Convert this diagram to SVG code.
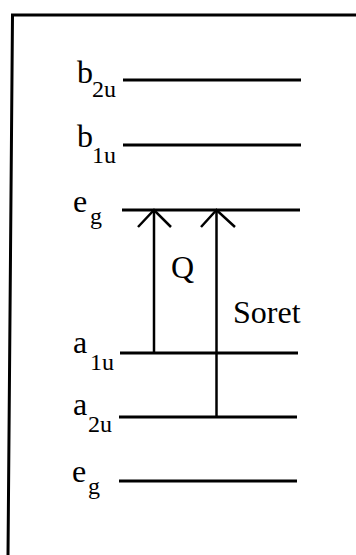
<svg xmlns="http://www.w3.org/2000/svg" width="356" height="555" viewBox="0 0 356 555">
<style>
.lvl{stroke:#000;stroke-width:3;fill:none}
.frame{stroke:#000;stroke-width:3;fill:none}
.arr{stroke:#000;stroke-width:2.5;fill:none}
.t{font-family:"Liberation Serif","Times New Roman",serif;font-size:32px;fill:#000}
.s{font-family:"Liberation Serif","Times New Roman",serif;font-size:24px;fill:#000}
</style>
<rect width="356" height="555" fill="#fff"/>
<g id="frame">
<path class="frame" d="M356,15 H12.5 L8,555"/>
</g>
<g id="b2u">
<line class="lvl" x1="123" y1="80" x2="301" y2="80"/>
<text class="t" x="77" y="83">b</text><text class="s" x="92" y="97">2u</text>
</g>
<g id="b1u">
<line class="lvl" x1="123" y1="145" x2="301" y2="145"/>
<text class="t" x="77" y="147">b</text><text class="s" x="92" y="163">1u</text>
</g>
<g id="eg_upper">
<line class="lvl" x1="122" y1="210" x2="300" y2="210"/>
<text class="t" x="73" y="212">e</text><text class="s" x="90" y="224">g</text>
</g>
<g id="a1u">
<line class="lvl" x1="120" y1="353" x2="298" y2="353"/>
<text class="t" x="73" y="353">a</text><text class="s" x="90" y="370">1u</text>
</g>
<g id="a2u">
<line class="lvl" x1="119" y1="417" x2="297" y2="417"/>
<text class="t" x="73" y="415">a</text><text class="s" x="88" y="432">2u</text>
</g>
<g id="eg_lower">
<line class="lvl" x1="119" y1="481" x2="297" y2="481"/>
<text class="t" x="72" y="482">e</text><text class="s" x="88" y="494">g</text>
</g>
<g id="connectors">
<line class="arr" x1="154" y1="353" x2="154" y2="210"/>
<polyline class="arr" points="138,227 154,210 171,227"/>
<line class="arr" x1="216.5" y1="417" x2="216.5" y2="210"/>
<polyline class="arr" points="201,227 216.5,210 235,227"/>
<text class="t" x="171" y="278">Q</text>
<text class="t" x="233" y="323">Soret</text>
</g>
</svg>
